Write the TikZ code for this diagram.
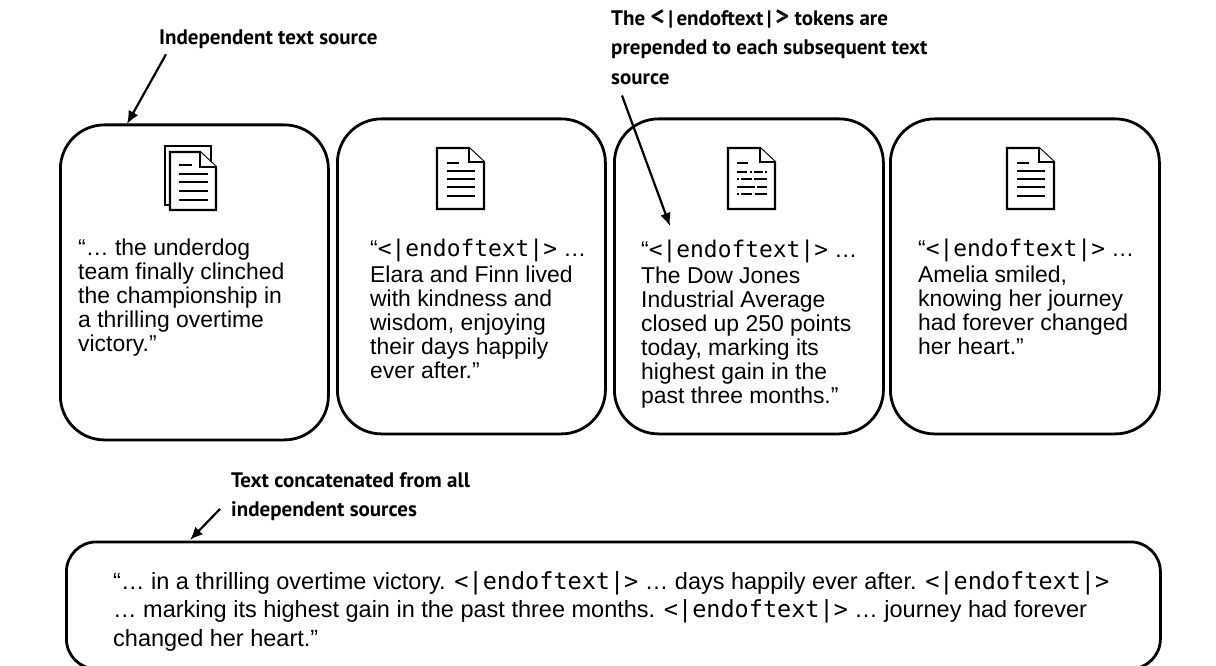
\documentclass[tikz,border=0pt]{standalone}
\usepackage{fontspec}
\setmainfont{Liberation Sans}
\newfontfamily\labelfont{PT Sans}
\newfontfamily\tokenfont{DejaVu Sans Mono}
\newcommand{\tok}{{\tokenfont <|endoftext|>}}
\newcommand{\bigmark}[1]{{\fontsize{27}{29.5}\selectfont #1}}
\tikzset{
	box/.style={draw, line width=2.8pt, rounded corners=44pt},
	wordtext/.style={anchor=north west, align=left, inner sep=0pt, font=\fontsize{22.9}{24}\selectfont},
	note/.style={anchor=north west, align=left, inner sep=0pt, font=\labelfont\bfseries\fontsize{21}{29.5}\selectfont},
	pointer/.style={-{Latex[length=13pt,width=11pt]}, line width=2.2pt},
	sheet/.style={draw, line width=2.2pt, fill=white, line join=miter},
	rule/.style={line width=1.9pt}
}
\usetikzlibrary{arrows.meta}
\begin{document}
\begin{tikzpicture}[x=1pt, y=-1pt]
	\useasboundingbox (0, 0) rectangle (1216, 666);

	% text sources
	\node[box, minimum width=268pt, minimum height=315pt, anchor=north west] (source1) at (59, 123.5) {};
	\node[box, minimum width=268pt, minimum height=315pt, anchor=north west] (source2) at (336, 117.5) {};
	\node[box, minimum width=269pt, minimum height=315pt, anchor=north west] (source3) at (613, 117.5) {};
	\node[box, minimum width=269pt, minimum height=315pt, anchor=north west] (source4) at (889, 117.5) {};
	\node[box, rounded corners=30pt, minimum width=1094pt, minimum height=127pt, anchor=north west] (merged) at (65, 540.5) {};

	% first icon, two sheets
	\draw[sheet] (165, 146) rectangle (211, 205);
	\draw[sheet] (170, 152) -- (200, 152) -- (216, 167) -- (216, 210) -- (170, 210) -- cycle;
	\draw[sheet] (200, 152) -- (200, 167) -- (216, 167);
	\draw[rule] (179, 165) -- (192, 165);
	\foreach \y in {174, 182, 191, 200}
		\draw[rule] (179, \y) -- (208, \y);

	% second and fourth icons
	\foreach \dx in {0, 570} {
		\draw[sheet] (437+\dx, 148) -- (469+\dx, 148) -- (484+\dx, 162) -- (484+\dx, 209) -- (437+\dx, 209) -- cycle;
		\draw[sheet] (469+\dx, 148) -- (469+\dx, 162) -- (484+\dx, 162);
		\draw[rule] (447+\dx, 163) -- (459+\dx, 163);
		\foreach \y in {171, 179, 187, 196}
			\draw[rule] (447+\dx, \y) -- (475+\dx, \y);
	}

	% third icon, broken lines
	\draw[sheet] (728, 148) -- (760, 148) -- (775, 162) -- (775, 209) -- (728, 209) -- cycle;
	\draw[sheet] (760, 148) -- (760, 162) -- (775, 162);
	\draw[rule] (737, 163) -- (748, 163);
	\draw[rule] (737, 172) -- (747, 172) (750, 172) -- (752, 172) (754, 172) -- (763, 172) (765, 172) -- (767, 172);
	\draw[rule] (737, 179) -- (739, 179) (741, 179) -- (752, 179) (754, 179) -- (767, 179);
	\draw[rule] (737, 187) -- (755, 187) (757, 187) -- (767, 187);
	\draw[rule] (737, 194) -- (739, 194) (741, 194) -- (752, 194) (755, 194) -- (767, 194);

	% texts of the sources
	\node[wordtext] (text1) at (78, 239) {“… the underdog\\team finally clinched\\the championship in\\a thrilling overtime\\victory.”};
	\node[wordtext] (text2) at (370, 239) {“\tok{} …\\[2pt]Elara and Finn lived\\with kindness and\\wisdom, enjoying\\their days happily\\ever after.”};
	\node[wordtext] (text3) at (641, 240) {“\tok{} …\\[2pt]The Dow Jones\\Industrial Average\\closed up 250 points\\today, marking its\\highest gain in the\\past three months.”};
	\node[wordtext] (text4) at (918, 239) {“\tok{} …\\[2pt]Amelia smiled,\\knowing her journey\\had forever changed\\her heart.”};
	\node[wordtext, font=\fontsize{23.5}{28.5}\selectfont] (text5) at (113, 571) {“… in a thrilling overtime victory. \tok{} … days happily ever after. \tok\\… marking its highest gain in the past three months. \tok{} … journey had forever\\changed her heart.”};

	% notes
	\node[note] (note1) at (159, 30) {Independent text source};
	\node[note] (note2) at (611, 9) {The \bigmark{<}\,|\,endoftext\,|\,\bigmark{>} tokens are\\prepended to each subsequent text\\source};
	\node[note] (note3) at (231, 472) {Text concatenated from all\\independent sources};

	\coordinate (tip1) at (127, 124);
	\coordinate (tip2) at (670, 226);
	\coordinate (tip3) at (190, 540);
	\draw[pointer] ([xshift=7pt, yshift=-5pt]note1.south west) -- (tip1);
	\draw[pointer] ([xshift=11pt, yshift=-11pt]note2.south west) -- (tip2);
	\draw[pointer] ([xshift=-11pt, yshift=12pt]note3.south west) -- (tip3);
\end{tikzpicture}
\end{document}
